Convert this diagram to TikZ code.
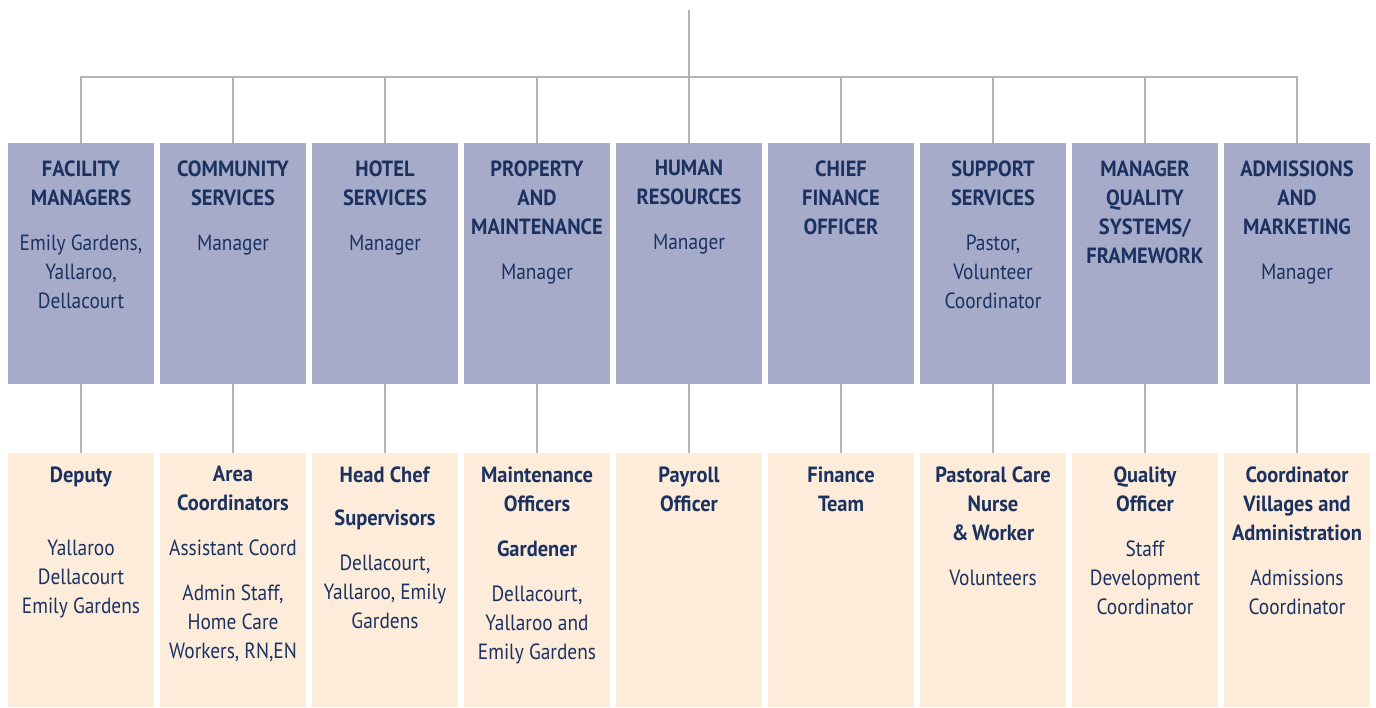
\documentclass[tikz,border=0pt]{standalone}
\usepackage{fontspec}
\setmainfont{PT Sans}[FakeStretch=0.88, BoldFeatures={FakeStretch=0.93}]
\usetikzlibrary{positioning}
\definecolor{orgink}{HTML}{1B3261}
\definecolor{orglav}{HTML}{A7ABCA}
\definecolor{orgcream}{HTML}{FDECDA}
\definecolor{orgline}{HTML}{B4B4B4}

\begin{document}
\begin{tikzpicture}[x=0.5pt, y=-0.5pt, font=\fontsize{11}{14.5}\selectfont, node distance=3pt,
  dept/.style={fill=orglav, draw=none, inner sep=0pt, outer sep=0pt, minimum width=73pt, minimum height=120.5pt},
  team/.style={fill=orgcream, draw=none, inner sep=0pt, outer sep=0pt, minimum width=73pt, minimum height=127pt},
  boxtext/.style={text=orgink, align=center, inner sep=0pt},
  link/.style={draw=orgline, line width=1.2pt}]

\useasboundingbox (0,0) rectangle (1376,707);

% top row: departments
\node[dept, anchor=north] (fac) at (81,143) {};
\node[dept, right=of fac] (comm) {};
\node[dept, right=of comm] (hotel) {};
\node[dept, right=of hotel] (prop) {};
\node[dept, right=of prop] (hr) {};
\node[dept, right=of hr] (cfo) {};
\node[dept, right=of cfo] (supp) {};
\node[dept, right=of supp] (qual) {};
\node[dept, right=of qual] (adm) {};

% bottom row: staff under each department
\node[team, below=34.5pt of fac] (dep) {};
\node[team, right=of dep] (area) {};
\node[team, right=of area] (chef) {};
\node[team, right=of chef] (maint) {};
\node[team, right=of maint] (pay) {};
\node[team, right=of pay] (fin) {};
\node[team, right=of fin] (past) {};
\node[team, right=of past] (qoff) {};
\node[team, right=of qoff] (coord) {};

% department texts (\textbf per line, \\ may not sit inside a group)
\node[boxtext, below=8.5pt of fac.north] (facT) {\textbf{FACILITY}\\\textbf{MANAGERS}\\[8pt]Emily Gardens,\\Yallaroo,\\Dellacourt};
\node[boxtext, below=8.5pt of comm.north] (commT) {\textbf{COMMUNITY}\\\textbf{SERVICES}\\[8pt]Manager};
\node[boxtext, below=8.5pt of hotel.north] (hotelT) {\textbf{HOTEL}\\\textbf{SERVICES}\\[8pt]Manager};
\node[boxtext, below=8.5pt of prop.north] (propT) {\textbf{PROPERTY}\\\textbf{AND}\\\textbf{MAINTENANCE}\\[8pt]Manager};
\node[boxtext, below=8.5pt of hr.north] (hrT) {\textbf{HUMAN}\\\textbf{RESOURCES}\\[8pt]Manager};
\node[boxtext, below=8.5pt of cfo.north] (cfoT) {\textbf{CHIEF}\\\textbf{FINANCE}\\\textbf{OFFICER}};
\node[boxtext, below=8.5pt of supp.north] (suppT) {\textbf{SUPPORT}\\\textbf{SERVICES}\\[8pt]Pastor,\\Volunteer\\Coordinator};
\node[boxtext, below=8.5pt of qual.north] (qualT) {\textbf{MANAGER}\\\textbf{QUALITY}\\\textbf{SYSTEMS/}\\\textbf{FRAMEWORK}};
\node[boxtext, below=8.5pt of adm.north] (admT) {\textbf{ADMISSIONS}\\\textbf{AND}\\\textbf{MARKETING}\\[8pt]Manager};

% staff texts
\node[boxtext, below=6.5pt of dep.north] (depT) {\textbf{Deputy}\\[22pt]Yallaroo\\Dellacourt\\Emily Gardens};
\node[boxtext, below=6.5pt of area.north] (areaT) {\textbf{Area}\\\textbf{Coordinators}\\[8pt]Assistant Coord\\[8pt]Admin Staff,\\Home Care\\Workers, RN,EN};
\node[boxtext, below=6.5pt of chef.north] (chefT) {\textbf{Head Chef}\\[7pt]\textbf{Supervisors}\\[8pt]Dellacourt,\\Yallaroo, Emily\\Gardens};
\node[boxtext, below=6.5pt of maint.north] (maintT) {\textbf{Maintenance}\\\textbf{Officers}\\[8pt]\textbf{Gardener}\\[8pt]Dellacourt,\\Yallaroo and\\Emily Gardens};
\node[boxtext, below=6.5pt of pay.north] (payT) {\textbf{Payroll}\\\textbf{Officer}};
\node[boxtext, below=6.5pt of fin.north] (finT) {\textbf{Finance}\\\textbf{Team}};
\node[boxtext, below=6.5pt of past.north] (pastT) {\textbf{Pastoral Care}\\\textbf{Nurse}\\\textbf{\&\,Worker}\\[8pt]Volunteers};
\node[boxtext, below=6.5pt of qoff.north] (qoffT) {\textbf{Quality}\\\textbf{Officer}\\[8pt]Staff\\Development\\Coordinator};
\node[boxtext, below=6.5pt of coord.north] (coordT) {\textbf{Coordinator}\\\textbf{Villages and}\\\textbf{Administration}\\[8pt]Admissions\\Coordinator};

% connectors
\coordinate (root) at (689,10);
\coordinate (bus) at (689,77);
\draw[link] (root) -- (bus);
\draw[link] (fac.north) |- (bus);
\draw[link] (comm.north) |- (bus);
\draw[link] (hotel.north) |- (bus);
\draw[link] (prop.north) |- (bus);
\draw[link] (hr.north) -- (bus);
\draw[link] (cfo.north) |- (bus);
\draw[link] (supp.north) |- (bus);
\draw[link] (qual.north) |- (bus);
\draw[link] (adm.north) |- (bus);
\draw[link] (fac) -- (dep);
\draw[link] (comm) -- (area);
\draw[link] (hotel) -- (chef);
\draw[link] (prop) -- (maint);
\draw[link] (hr) -- (pay);
\draw[link] (cfo) -- (fin);
\draw[link] (supp) -- (past);
\draw[link] (qual) -- (qoff);
\draw[link] (adm) -- (coord);
\end{tikzpicture}
\end{document}
